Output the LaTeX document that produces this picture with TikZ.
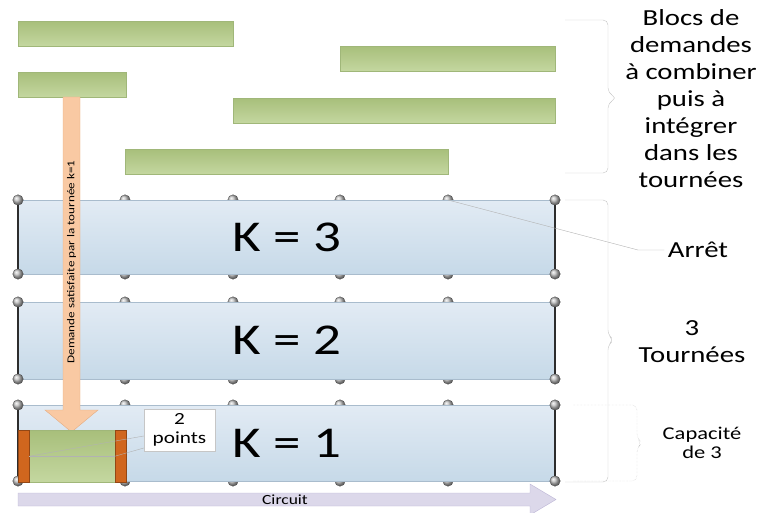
\documentclass[tikz,border=0pt]{standalone}
\usepackage{fontspec}
\setmainfont[FakeStretch=1.25]{Carlito}
\usetikzlibrary{positioning}

\definecolor{blocgreentop}{HTML}{A8BF7B}
\definecolor{blocgreenbot}{HTML}{C4D7A0}
\definecolor{blocedge}{HTML}{A0B779}
\definecolor{routetop}{HTML}{E2EBF4}
\definecolor{routebot}{HTML}{C6D9E8}
\definecolor{routeedge}{HTML}{A9BCCD}
\definecolor{arrowfill}{HTML}{F9C9A3}
\definecolor{arrowedge}{HTML}{E5AC80}
\definecolor{barorange}{HTML}{D0661E}
\definecolor{circfill}{HTML}{DCD8EA}
\definecolor{circedge}{HTML}{BCB5D5}
\definecolor{braceg}{HTML}{C4C4C4}

\begin{document}
\begin{tikzpicture}[x=1pt, y=-1pt,
    block/.style={anchor=north west, minimum height=25pt, inner sep=0pt,
      top color=blocgreentop, bottom color=blocgreenbot, draw=blocedge},
    route/.style={anchor=north west, minimum width=537pt, inner sep=0pt,
      top color=routetop, bottom color=routebot, draw=routeedge,
      font=\fontsize{44}{50}\selectfont},
    stop/.style={circle, inner sep=0pt, minimum size=10.5pt, ball color=gray!50,
      draw=gray!45!black, very thin},
    endline/.style={draw=gray!35!black, line width=1.1pt},
    bar/.style={anchor=north west, minimum width=11pt, minimum height=52pt,
      inner sep=0pt, fill=barorange, draw=barorange!70!black},
    callout/.style={fill=white, draw=gray!45, minimum width=71pt, minimum height=42pt,
      align=center, inner sep=1pt, font=\fontsize{17}{19}\selectfont},
    thinline/.style={draw=gray!60, thin},
    bracket/.style={draw=braceg, rounded corners=5pt},
    sidetext/.style={align=center, font=\fontsize{23}{27}\selectfont},
    smalltext/.style={align=center, font=\fontsize{18}{19}\selectfont}]
  \useasboundingbox (0,0) rectangle (763,513);

  \foreach \k/\t/\b in {3/200/274, 2/302/379, 1/405/481}
    \foreach \x [count=\i] in {125,233,340,448} {
      \node[stop] (m\k-\i-t) at (\x,\t) {};
      \node[stop] (m\k-\i-b) at (\x,\b) {};
    }

  \node[route, minimum height=74pt] (k3) at (18,200) {K = 3};
  \node[route, minimum height=77pt] (k2) at (18,302) {K = 2};
  \node[route, minimum height=76pt] (k1) at (18,405) {K = 1};

  \foreach \k/\t/\b in {3/200/274, 2/302/379, 1/405/481} {
    \node[stop] (e\k-l-t) at (18,\t) {};
    \node[stop] (e\k-l-b) at (18,\b) {};
    \node[stop] (e\k-r-t) at (555,\t) {};
    \node[stop] (e\k-r-b) at (555,\b) {};
    \draw[endline] (e\k-l-t) -- (e\k-l-b);
    \draw[endline] (e\k-r-t) -- (e\k-r-b);
  }

  \node[block, minimum width=215pt] (b1) at (18,21) {};
  \node[block, minimum width=215pt] (b2) at (340,46) {};
  \node[block, minimum width=108pt] (b3) at (18,72) {};
  \node[block, minimum width=322pt] (b4) at (233,98) {};
  \node[block, minimum width=323pt] (b5) at (125,149) {};

  \filldraw[fill=arrowfill, draw=arrowedge] (63,97) -- (80,97) -- (80,410) -- (98,410)
    -- (71.5,432) -- (45,410) -- (63,410) -- cycle;
  \node[rotate=90, font=\fontsize{10.5}{12}\selectfont] (dem) at (71.5,262)
    {Demande satisfaite par la tournée k=1};

  \node[block, minimum width=108pt, minimum height=52pt] (d1) at (18,430) {};
  \node[bar] (bl) at (18,430) {};
  \node[bar] (br) at (115,430) {};
  \draw[thinline] (bl.east |- d1.west) -- (br.west |- d1.east);
  \node[callout] (pts) at (179.5,430) {2\\points};
  \draw[thinline] ([yshift=-6pt]pts.west) -- (bl.east |- d1.west);
  \draw[thinline] ([yshift=-18pt]pts.west) -- (br.west |- d1.east);

  \filldraw[fill=circfill, draw=circedge] (18,493) -- (530,493) -- (530,484)
    -- (556,499.5) -- (530,515) -- (530,506) -- (18,506) -- cycle;
  \node[font=\fontsize{14}{16}\selectfont] (circ) at (285,499.5) {Circuit};

  \draw[bracket] (565,20) -- (608,20) -- (608,93) -- (617,98) -- (608,103)
    -- (608,173) -- (565,173);
  \draw[bracket] (565,200) -- (608,200) -- (608,335) -- (614,340) -- (608,345)
    -- (608,482) -- (565,482);
  \draw[bracket, densely dotted] (573,405) -- (637,405) -- (637,438) -- (642,443)
    -- (637,448) -- (637,481) -- (573,481);

  \node[sidetext] (blocs) at (691,99)
    {Blocs de\\demandes\\à combiner\\puis à\\intégrer\\dans les\\tournées};
  \node[sidetext] (arret) at (698,250) {Arrêt};
  \node[sidetext] (tourn) at (692,342) {3\\Tournées};
  \node[smalltext] (capa) at (702,443) {Capacité\\de 3};
  \draw[thinline] (m3-4-t.center) -- (638,250) -- (arret.west);
\end{tikzpicture}
\end{document}
